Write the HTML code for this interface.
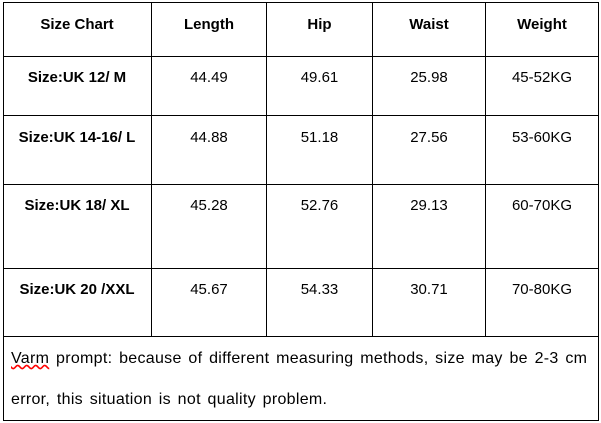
<!DOCTYPE html>
<html><head><style>
body{margin:0;width:601px;height:423px;background:#fff;position:relative;overflow:hidden;font-family:"Liberation Sans",sans-serif;color:#000}
.h,.v{position:absolute;background:#000}
.h{height:1px}.v{width:1px}
.t{position:absolute;font-size:15px;text-align:center;line-height:18px;white-space:nowrap}
.b{font-weight:bold}
.n{position:absolute;left:11px;font-size:16px;line-height:18px;white-space:nowrap;letter-spacing:0.3px;word-spacing:2px}
</style></head><body>
<div class="h" style="left:3px;width:596px;top:2px"></div>
<div class="h" style="left:3px;width:596px;top:56px"></div>
<div class="h" style="left:3px;width:596px;top:115px"></div>
<div class="h" style="left:3px;width:596px;top:184px"></div>
<div class="h" style="left:3px;width:596px;top:268px"></div>
<div class="h" style="left:3px;width:596px;top:336px"></div>
<div class="h" style="left:3px;width:596px;top:420px"></div>
<div class="v" style="left:3px;top:2px;height:419px"></div>
<div class="v" style="left:598px;top:2px;height:419px"></div>
<div class="v" style="left:151px;top:2px;height:334px"></div>
<div class="v" style="left:266px;top:2px;height:334px"></div>
<div class="v" style="left:372px;top:2px;height:334px"></div>
<div class="v" style="left:485px;top:2px;height:334px"></div>

<div class="t b" style="left:3px;width:148px;top:16px">Size Chart</div>
<div class="t b" style="left:152px;width:114px;top:16px">Length</div>
<div class="t b" style="left:267px;width:105px;top:16px">Hip</div>
<div class="t b" style="left:373px;width:112px;top:16px">Waist</div>
<div class="t b" style="left:486px;width:112px;top:16px">Weight</div>

<div class="t b" style="left:3px;width:148px;top:69px">Size:UK 12/ M</div>
<div class="t" style="left:152px;width:114px;top:69px">44.49</div>
<div class="t" style="left:267px;width:105px;top:69px">49.61</div>
<div class="t" style="left:373px;width:112px;top:69px">25.98</div>
<div class="t" style="left:486px;width:112px;top:69px">45-52KG</div>

<div class="t b" style="left:3px;width:148px;top:129px">Size:UK 14-16/ L</div>
<div class="t" style="left:152px;width:114px;top:129px">44.88</div>
<div class="t" style="left:267px;width:105px;top:129px">51.18</div>
<div class="t" style="left:373px;width:112px;top:129px">27.56</div>
<div class="t" style="left:486px;width:112px;top:129px">53-60KG</div>

<div class="t b" style="left:3px;width:148px;top:197px">Size:UK 18/ XL</div>
<div class="t" style="left:152px;width:114px;top:197px">45.28</div>
<div class="t" style="left:267px;width:105px;top:197px">52.76</div>
<div class="t" style="left:373px;width:112px;top:197px">29.13</div>
<div class="t" style="left:486px;width:112px;top:197px">60-70KG</div>

<div class="t b" style="left:3px;width:148px;top:281px">Size:UK 20 /XXL</div>
<div class="t" style="left:152px;width:114px;top:281px">45.67</div>
<div class="t" style="left:267px;width:105px;top:281px">54.33</div>
<div class="t" style="left:373px;width:112px;top:281px">30.71</div>
<div class="t" style="left:486px;width:112px;top:281px">70-80KG</div>

<div class="n" style="top:350px"><span style="text-decoration:underline wavy red">Varm</span> prompt: because of different measuring methods, size may be 2-3 cm</div>
<div class="n" style="top:391px">error, this situation is not quality problem.</div>
</body></html>
